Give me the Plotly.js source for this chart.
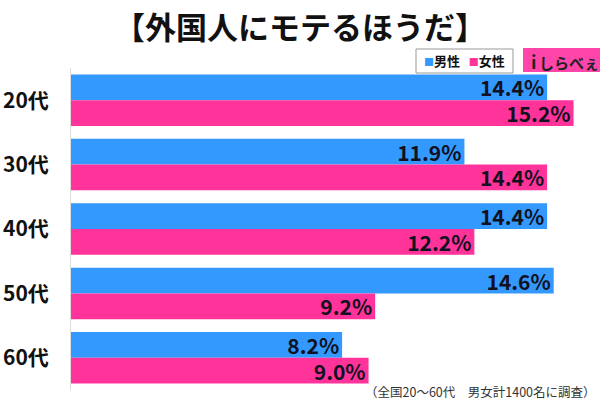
<!DOCTYPE html>
<html><head><meta charset="utf-8">
<script src="https://cdn.plot.ly/plotly-3.0.1.min.js"></script>
<style>body{margin:0;background:#fff}#c{width:600px;height:400px}</style>
</head><body><div id="c"></div>
<script>
const categories = ['20代','30代','40代','50代','60代'];
const male = [14.4, 11.9, 14.4, 14.6, 8.2];
const female = [15.2, 14.4, 12.2, 9.2, 9.0];
const seriesNames = ['男性','女性'];
const seriesColors = ['#3399ff','#ff3399'];
const titleText = '【外国人にモテるほうだ】';
const noteText = '（全国20～60代　男女計1400名に調査）';
const logoText = 'しらべぇ';

const F = '"Noto Sans CJK JP", "Noto Sans", sans-serif';
const common = {
  type:'bar', orientation:'h', y:categories,
  texttemplate:'%{x:.1f}%', textposition:'inside', insidetextanchor:'end', constraintext:'none',
  textfont:{family:F, size:21, color:'#111122', weight:'bold'},
  hoverinfo:'skip', showlegend:false
};
const data = seriesNames.map((n,i)=>Object.assign({}, common, {
  x: i===0 ? male : female, name:n, marker:{color:seriesColors[i]}
}));
const py = v => (390 - v) / 322;   // pixel y -> paper y
const px = v => (v - 71) / 529;    // pixel x -> paper x
const legendHtml = seriesNames.map((n,i)=>'<span style="color:'+seriesColors[i]+';font-size:10px">■</span><b>'+n+'</b>').join('&nbsp;&nbsp;&nbsp;');
const layout = {
  width:600, height:400,
  margin:{l:71, r:0, t:68, b:10},
  paper_bgcolor:'#fff', plot_bgcolor:'#fff',
  barmode:'group', bargap:0.2, bargroupgap:0,
  title:{text:'<b>'+titleText+'</b>', x:0.5, xref:'container', xanchor:'center', y:0.93, yanchor:'middle', font:{family:F, size:31, color:'#111'}},
  xaxis:{range:[0,16], showgrid:false, zeroline:false, showticklabels:false, showline:false, fixedrange:true},
  yaxis:{autorange:'reversed', showgrid:false, zeroline:false, showline:true, linecolor:'#dddddd', linewidth:1,
         ticks:'', ticklabelstandoff:17, tickfont:{family:F, size:21, color:'#111', weight:'bold'}},
  showlegend:false,
  shapes:[
    {type:'rect', xref:'paper', yref:'paper', x0:px(416), x1:px(513), y0:py(73), y1:py(49),
     fillcolor:'#fff', line:{width:1, color:'#999'}},
    {type:'rect', xref:'paper', yref:'paper', x0:px(523), x1:1.0, y0:py(72), y1:py(48),
     fillcolor:'#ff44aa', line:{width:0}}
  ],
  annotations:[
    {text:legendHtml, xref:'paper', yref:'paper', x:px(464.5), y:py(61), xanchor:'center', yanchor:'middle',
     showarrow:false, font:{family:F, size:13, color:'#111'}},
    {text:'<b>i</b>', xref:'paper', yref:'paper', x:px(533), y:py(61), xanchor:'center', yanchor:'middle',
     showarrow:false, font:{family:F, size:18, color:'#222'}},
    {text:'<b>'+logoText+'</b>', xref:'paper', yref:'paper', x:px(569), y:py(62), xanchor:'center', yanchor:'middle',
     showarrow:false, font:{family:F, size:15, color:'#222'}},
    {text:noteText, xref:'paper', yref:'paper', x:px(598), y:py(391), xanchor:'right', yanchor:'middle',
     showarrow:false, font:{family:F, size:12.5, color:'#333'}}
  ]
};
Plotly.newPlot('c', data, layout, {displayModeBar:false, staticPlot:true});
</script></body></html>
